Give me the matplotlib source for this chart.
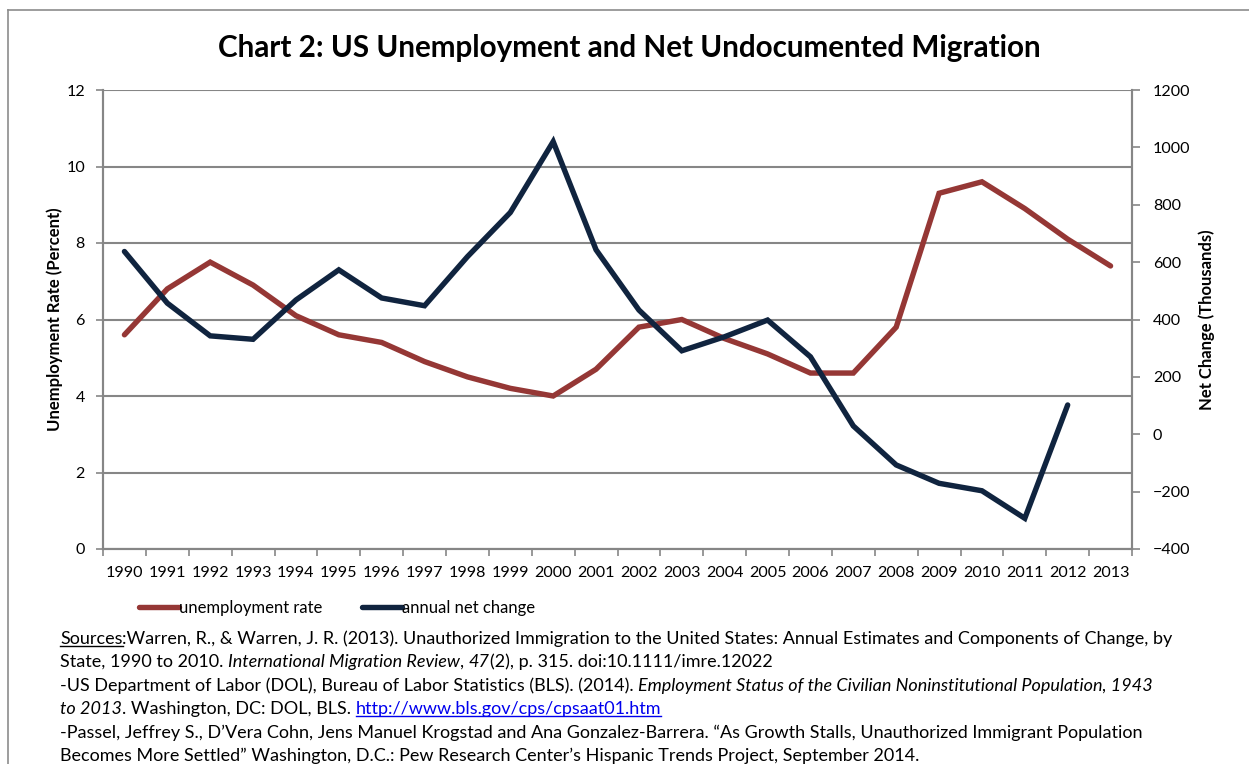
"""
chart 2 - us unemployment rate vs net undocumented migration, 1990-2013.
excel-style dual axis line chart with the source notes underneath.

output: out.png
"""
import matplotlib
matplotlib.use("Agg")
import matplotlib.pyplot as plt
from matplotlib.lines import Line2D

FONT = "Lato"
RED = "#953735"
NAVY = "#10243f"
GRID = "#868686"

years = [str(y) for y in range(1990, 2014)]
# percent, 1990-2013
unemployment = [5.6, 6.8, 7.5, 6.9, 6.1, 5.6, 5.4, 4.9, 4.5, 4.2, 4.0, 4.7,
                5.8, 6.0, 5.5, 5.1, 4.6, 4.6, 5.8, 9.3, 9.6, 8.9, 8.1, 7.4]
# thousands, 1990-2012 (no 2013 value)
net_change = [637, 457, 343, 331, 468, 573, 475, 448, 619, 773, 1020, 643,
              433, 291, 340, 398, 270, 29, -107, -171, -197, -293, 102]

left_ticks = [0, 2, 4, 6, 8, 10, 12]
right_ticks = [-400, -200, 0, 200, 400, 600, 800, 1000, 1200]

title = "Chart 2: US Unemployment and Net Undocumented Migration"

# source notes, one list of (text, style) runs per line
source_lines = [
    [("Sources", "under"),
     (":Warren, R., & Warren, J. R. (2013). Unauthorized Immigration to the United States: "
      "Annual Estimates and Components of Change, by", "normal")],
    [("State, 1990 to 2010. ", "normal"), ("International Migration Review", "italic"),
     (", ", "normal"), ("47", "italic"), ("(2), p. 315. doi:10.1111/imre.12022", "normal")],
    [("-US Department of Labor (DOL), Bureau of Labor Statistics (BLS). (2014). ", "normal"),
     ("Employment Status of the Civilian Noninstitutional Population, 1943", "italic")],
    [("to 2013", "italic"), (". Washington, DC: DOL, BLS. ", "normal"),
     ("http://www.bls.gov/cps/cpsaat01.htm", "link")],
    [("-Passel, Jeffrey S., D\u2019Vera Cohn, Jens Manuel Krogstad and Ana Gonzalez-Barrera. "
      "\u201cAs Growth Stalls, Unauthorized Immigrant Population", "normal")],
    [("Becomes More Settled\u201d Washington, D.C.: Pew Research Center\u2019s Hispanic "
      "Trends Project, September 2014.", "normal")],
]

W, H = 1249, 764
plt.rcParams["font.family"] = [FONT, "DejaVu Sans"]

fig = plt.figure(figsize=(W / 100, H / 100), dpi=100)

# outer frame (only top and left edges fall inside the picture)
fig.add_artist(Line2D([8 / W, 8 / W], [0, 1 - 10 / H], color="#8c8c8c", lw=1.2))
fig.add_artist(Line2D([8 / W, 1], [1 - 10 / H, 1 - 10 / H], color="#8c8c8c", lw=1.2))

ax = fig.add_axes([103 / W, 1 - 549 / H, (1132 - 103) / W, (549 - 90) / H])
ax2 = ax.twinx()

x = list(range(len(years)))
ax.plot(x, unemployment, color=RED, lw=3.9, solid_capstyle="round",
        solid_joinstyle="miter", label="unemployment rate", zorder=3)
ax2.plot(x[:len(net_change)], net_change, color=NAVY, lw=3.9, solid_capstyle="round",
         solid_joinstyle="miter", label="annual net change", zorder=3)

ax.set_xlim(-0.5, len(years) - 0.5)
ax.set_ylim(0, 12)
ax2.set_ylim(-400, 1200)

# category boundaries get the tick marks, centres get the labels
ax.set_xticks([i - 0.5 for i in range(len(years) + 1)])
ax.set_xticklabels([])
ax.set_xticks(x, minor=True)
ax.set_xticklabels(years, minor=True, fontsize=11.6)
ax.tick_params(axis="x", which="major", length=5, width=1.2, color=GRID, direction="out")
ax.tick_params(axis="x", which="minor", length=0, pad=12)

ax.set_yticks(left_ticks)
ax.tick_params(axis="y", length=5, width=1.2, color=GRID, labelsize=11.6, pad=8)
ax2.set_yticks(right_ticks)
ax2.tick_params(axis="y", length=6, width=1.2, color=GRID, labelsize=11.6, pad=9)

ax.yaxis.grid(True, color=GRID, lw=1.5)
ax.set_axisbelow(True)
for a in (ax, ax2):
    for side in ("left", "right", "bottom"):
        a.spines[side].set_color(GRID)
        a.spines[side].set_linewidth(1.5)
    a.spines["top"].set_visible(False)

ax.set_ylabel("Unemployment Rate (Percent)", fontsize=12, fontweight="bold", labelpad=2.5)
ax2.set_ylabel("Net Change (Thousands)", fontsize=12, fontweight="bold", labelpad=6)

fig.text(629 / W, 1 - 48 / H, title, ha="center", va="center",
         fontsize=21.3, fontweight="bold")

handles = ax.get_lines() + ax2.get_lines()
fig.legend(handles, [h.get_label() for h in handles], loc="center left",
           bbox_to_anchor=(127 / W, 1 - 608 / H), ncol=2, frameon=False,
           fontsize=12, handlelength=2.4, handletextpad=0.0, columnspacing=2.4,
           borderpad=0.2)

# source notes: place runs one after another, measuring as we go
fig.canvas.draw()
renderer = fig.canvas.get_renderer()
line_y = [639, 662, 686, 709, 733, 756]
for runs, y in zip(source_lines, line_y):
    xpos = 60
    for text, style in runs:
        t = fig.text(xpos / W, 1 - y / H, text, ha="left", va="center", fontsize=13,
                     fontstyle="italic" if style == "italic" else "normal",
                     color="#0000ee" if style == "link" else "black")
        bb = t.get_window_extent(renderer)
        if style in ("under", "link"):
            uy = bb.y0 + 1
            fig.add_artist(Line2D([bb.x0 / W, bb.x1 / W], [uy / H, uy / H],
                                  color=t.get_color(), lw=1))
        xpos = bb.x1

fig.savefig("out.png", dpi=100)
